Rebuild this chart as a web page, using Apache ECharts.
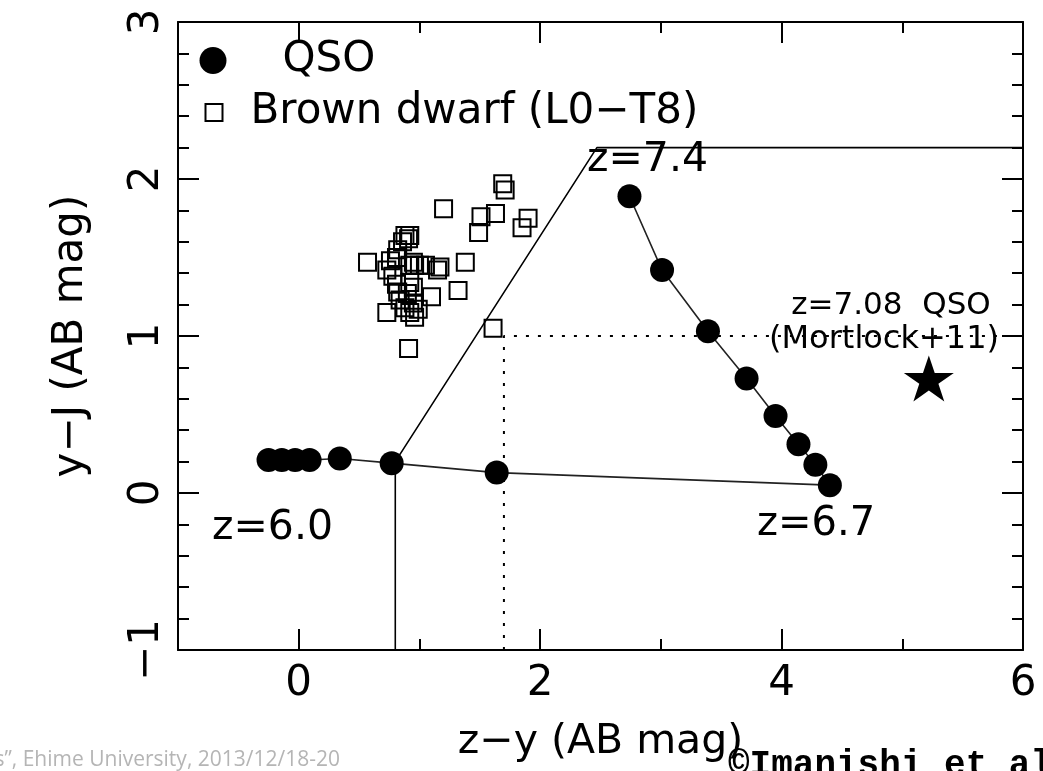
<!DOCTYPE html>
<html><head><meta charset="utf-8">
<script src="https://cdn.jsdelivr.net/npm/echarts@6/dist/echarts.min.js"></script>
<style>html,body{margin:0;padding:0;background:#fff}#c{width:1043px;height:771px}</style>
</head><body><div id="c"></div>
<script>
// ---- data ----
const qsoTrack = [
  [-0.25,0.21],[-0.14,0.21],[-0.03,0.21],[0.09,0.21],[0.34,0.22],[0.77,0.19],[1.64,0.13],
  [4.40,0.05],[4.28,0.18],[4.14,0.31],[3.95,0.49],[3.71,0.73],[3.39,1.03],[3.01,1.42],[2.74,1.89]
];
const brownDwarfs = [
  [1.69,1.97],[1.71,1.93],[1.20,1.81],[1.51,1.76],[1.63,1.78],[1.49,1.66],[1.90,1.75],[1.85,1.69],
  [0.57,1.47],[0.91,1.62],[0.86,1.60],[0.82,1.55],[0.81,1.50],[0.95,1.47],[1.00,1.45],[1.15,1.42],
  [1.17,1.44],[0.73,1.42],[0.78,1.38],[1.38,1.47],[1.32,1.29],[1.10,1.25],[0.73,1.15],[0.90,1.27],
  [0.95,1.21],[0.92,1.15],[0.99,1.17],[0.84,1.23],[0.95,1.31],[0.92,1.34],[1.61,1.05],[0.91,0.92],
  [0.92,1.45],[0.96,1.45],[1.05,1.45],[0.76,1.48],[0.81,1.33],[0.82,1.28],[0.96,1.12],[0.88,1.18],
  [0.88,1.64],[0.92,1.64]
];
const mortlockQSO = [[5.22,0.73]];
const selectionBoundary = [[0.8,-1],[0.8,0.2],[2.47,2.2],[6,2.2]];
const dottedCut = [[1.7,-1],[1.7,1.0],[6,1.0]];
const xMajorTicks = [0,2,4,6];
const seriesNames = ['QSO','Brown dwarf (L0\u2212T8)'];
const xTitle = 'z\u2212y (AB mag)';
const yTitle = 'y\u2212J (AB mag)';

const FONT = 'DejaVu Sans';
const starPath = 'path://M50,0 L61.2,34.5 L97.6,34.5 L68.2,55.9 L79.4,90.5 L50,69.1 L20.6,90.5 L31.8,55.9 L2.4,34.5 L38.8,34.5 Z';
const minus = v => String(v).replace('-', '\u2212');

const baseX = {type:'value', min:-1, max:6, interval:1, splitLine:{show:false}};
const baseY = {type:'value', min:-1, max:3, interval:1, splitLine:{show:false}};
const line = {show:true, onZero:false, lineStyle:{color:'#000', width:2}};
const noLine = {show:false, onZero:false};

const chart = echarts.init(document.getElementById('c'), null, {renderer:'canvas'});
chart.setOption({
  animation:false,
  backgroundColor:'#fff',
  grid:{left:178, top:22, right:20, bottom:121, containLabel:false, outerBoundsMode:'none'},
  xAxis:[
    Object.assign({}, baseX, {position:'bottom', axisLine:line,
      axisTick:{inside:true, length:11, lineStyle:{color:'#000', width:2}},
      axisLabel:{customValues:xMajorTicks, margin:13, fontSize:42, fontFamily:FONT, color:'#000'},
      name:xTitle, nameLocation:'middle', nameGap:72,
      nameTextStyle:{fontSize:41, fontFamily:FONT, color:'#000'}}),
    Object.assign({}, baseX, {position:'bottom', axisLine:noLine,
      axisTick:{inside:true, length:21, customValues:xMajorTicks, lineStyle:{color:'#000', width:2}},
      axisLabel:{show:false}}),
    Object.assign({}, baseX, {position:'top', axisLine:line,
      axisTick:{inside:true, length:11, lineStyle:{color:'#000', width:2}},
      axisLabel:{show:false}}),
    Object.assign({}, baseX, {position:'top', axisLine:noLine,
      axisTick:{inside:true, length:21, customValues:xMajorTicks, lineStyle:{color:'#000', width:2}},
      axisLabel:{show:false}})
  ],
  yAxis:[
    Object.assign({}, baseY, {position:'left', axisLine:line,
      axisTick:{inside:true, length:21, lineStyle:{color:'#000', width:2}},
      minorTick:{show:true, splitNumber:5, length:11, lineStyle:{color:'#000', width:2}},
      axisLabel:{rotate:90, margin:10, fontSize:42, fontFamily:FONT, color:'#000', formatter:minus},
      name:yTitle, nameLocation:'middle', nameGap:86,
      nameTextStyle:{fontSize:42, fontFamily:FONT, color:'#000'}}),
    Object.assign({}, baseY, {position:'right', axisLine:line,
      axisTick:{inside:true, length:21, lineStyle:{color:'#000', width:2}},
      minorTick:{show:true, splitNumber:5, length:11, lineStyle:{color:'#000', width:2}},
      axisLabel:{show:false}})
  ],
  legend:[
    {data:[seriesNames[0]], left:199.5, top:39.5, padding:0, icon:'circle', itemWidth:27, itemHeight:27,
     itemStyle:{color:'#000', opacity:1},
     textStyle:{fontSize:42, fontFamily:FONT, color:'#000', padding:[0,0,0,51]}},
    {data:[seriesNames[1]], left:204.5, top:91.5, padding:0, icon:'rect', itemWidth:17, itemHeight:17,
     itemStyle:{color:'rgba(0,0,0,0)', borderColor:'#000', borderWidth:2, opacity:1},
     textStyle:{fontSize:42, fontFamily:FONT, color:'#000', padding:[0,0,0,23]}}
  ],
  series:[
    {type:'line', name:'boundary', data:selectionBoundary, symbol:'none', silent:true,
     lineStyle:{color:'#000', width:1.6}, z:1},
    {type:'line', name:'cut', data:dottedCut, symbol:'none', silent:true,
     lineStyle:{color:'#000', width:2, type:[3,9]}, z:1},
    {type:'line', name:seriesNames[0], data:qsoTrack, symbol:'circle', symbolSize:24,
     itemStyle:{color:'#000', opacity:1}, lineStyle:{color:'#222', width:1.6}, z:3},
    {type:'scatter', name:seriesNames[1], data:brownDwarfs, symbol:'rect', symbolSize:17,
     itemStyle:{color:'rgba(0,0,0,0)', borderColor:'#000', borderWidth:2, opacity:1}, z:2},
    {type:'scatter', name:'Mortlock', data:mortlockQSO, symbol:starPath, symbolSize:[50,46],
     itemStyle:{color:'#000', opacity:1}, z:3}
  ],
  graphic:[
    {type:'text', left:587, top:140, style:{text:'z=7.4', font:'41px "DejaVu Sans"', fill:'#000'}},
    {type:'text', left:212, top:508, style:{text:'z=6.0', font:'41px "DejaVu Sans"', fill:'#000'}},
    {type:'text', left:757, top:505, style:{text:'z=6.7', font:'40px "DejaVu Sans"', fill:'#000'}},
    {type:'text', x:891, y:306, style:{text:'z=7.08  QSO', font:'31px "DejaVu Sans"', fill:'#000', align:'center', verticalAlign:'middle'}},
    {type:'text', x:884, y:340, style:{text:'(Mortlock+11)', font:'32px "DejaVu Sans"', fill:'#000', align:'center', verticalAlign:'middle'}},
    {type:'text', x:340, y:750, style:{text:'Galaxy Surveys\u201d, Ehime University, 2013/12/18-20', font:'21px "Open Sans"', fill:'#b5b5b5', align:'right', verticalAlign:'top'}},
    {type:'text', x:728, y:748, style:{text:'\u00a9Imanishi et al.', font:'bold 36px "Liberation Mono"', fill:'#000', align:'left', verticalAlign:'top'}}
  ]
});
</script></body></html>
